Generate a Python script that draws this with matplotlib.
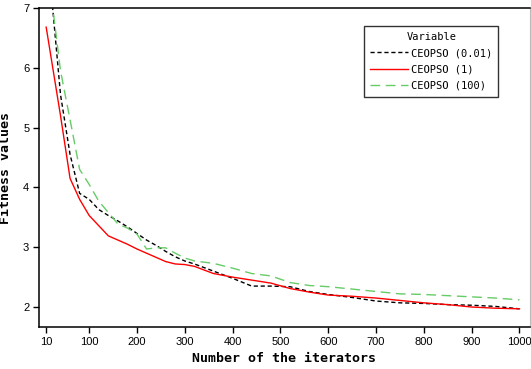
import matplotlib
matplotlib.use('Agg')
import matplotlib.pyplot as plt

# data
iterations = [10, 40, 60, 80, 100, 120, 140, 160, 180, 200, 220, 240, 260, 280, 300,
              320, 340, 360, 380, 400, 440, 480, 520, 560, 600, 650, 700, 750, 800,
              850, 900, 950, 1000]
ceopso_001 = [8.2, 5.55, 4.55, 3.90, 3.80, 3.63, 3.53, 3.44, 3.34, 3.23, 3.12, 3.03,
              2.93, 2.84, 2.77, 2.72, 2.66, 2.60, 2.54, 2.48, 2.35, 2.35, 2.34, 2.26,
              2.21, 2.16, 2.10, 2.07, 2.06, 2.04, 2.03, 2.01, 1.97]
ceopso_1 = [6.68, 5.20, 4.15, 3.80, 3.53, 3.36, 3.19, 3.12, 3.05, 2.97, 2.90, 2.83,
            2.76, 2.72, 2.71, 2.68, 2.62, 2.56, 2.53, 2.50, 2.45, 2.40, 2.31, 2.25,
            2.20, 2.18, 2.15, 2.11, 2.07, 2.04, 2.00, 1.98, 1.97]
ceopso_100 = [7.9, 5.95, 5.13, 4.30, 4.05, 3.77, 3.58, 3.39, 3.32, 3.22, 2.97, 2.99,
              2.99, 2.90, 2.82, 2.77, 2.75, 2.73, 2.69, 2.65, 2.56, 2.52, 2.41, 2.36,
              2.34, 2.30, 2.26, 2.22, 2.21, 2.19, 2.17, 2.15, 2.12]
labels = ['CEOPSO (0.01)', 'CEOPSO (1)', 'CEOPSO (100)']
xticks = [10, 100, 200, 300, 400, 500, 600, 700, 800, 900, 1000]
yticks = [2, 3, 4, 5, 6, 7]

tick_font = 'Liberation Sans'
mono = 'DejaVu Sans Mono'

fig = plt.figure(figsize=(5.31, 3.69), dpi=100)
ax = fig.add_axes([39/531, 42/369, 491/531, 319/369])

ax.plot(iterations, ceopso_001, color='black', lw=1, linestyle=(0, (3, 2)), label=labels[0])
ax.plot(iterations, ceopso_1, color='#ff0000', lw=1, label=labels[1])
ax.plot(iterations, ceopso_100, color='#66cc66', lw=1, linestyle=(0, (7, 4)), label=labels[2])

ax.set_xlim(-5, 1022)
ax.set_ylim(1.666, 7)
ax.set_xticks(xticks)
ax.set_yticks(yticks)
ax.tick_params(direction='out', length=4, width=1, labelsize=8, pad=3)
for t in ax.get_xticklabels() + ax.get_yticklabels():
    t.set_family(tick_font)

for s in ['left', 'bottom', 'top']:
    ax.spines[s].set_linewidth(1.1)
    ax.spines[s].set_color('black')
ax.spines['right'].set_color('#bbbbbb')
ax.spines['right'].set_linewidth(0.8)

ax.set_xlabel('Number of the iterators', family=mono, fontweight='bold', fontsize=9.5, labelpad=4)
ax.set_ylabel('Fitness values', family=mono, fontweight='bold', fontsize=9.5, labelpad=8)

leg = ax.legend(title='Variable', loc='upper left', bbox_to_anchor=(0.662, 0.944),
                borderaxespad=0, frameon=True, fancybox=False, handlelength=3.7,
                handletextpad=0.3, labelspacing=0.62, borderpad=0.55,
                prop={'family': mono, 'size': 7.5},
                title_fontproperties={'family': mono, 'size': 7.5})
leg.get_frame().set_edgecolor('black')
leg.get_frame().set_linewidth(1)

plt.savefig('out.png', dpi=100)
